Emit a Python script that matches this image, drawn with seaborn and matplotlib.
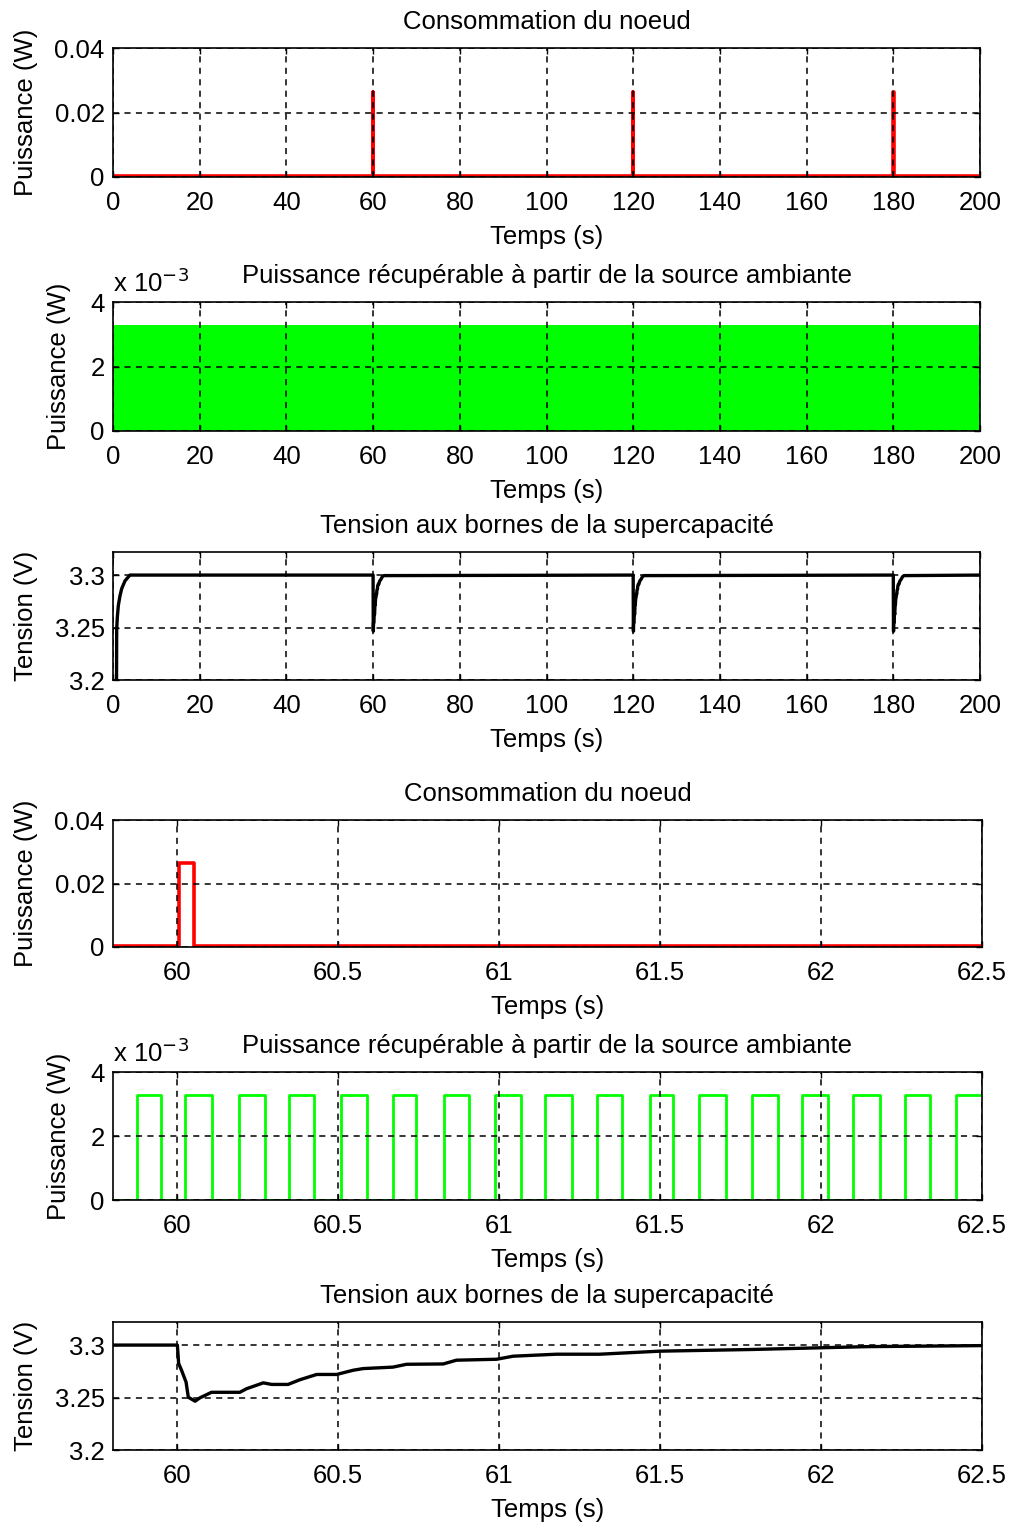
import numpy as np
import pandas as pd
import seaborn as sns
import matplotlib.pyplot as plt

# ---------------- donnees ----------------
# consommation du noeud (W)
conso_events = [60, 120, 180]          # instants des emissions (s)
conso_pulse_start = 0.006              # debut du pic apres l'evenement (s)
conso_pulse_end = 0.051                # fin du pic apres l'evenement (s)
conso_peak = 0.0264                    # W
conso_sleep = 0.0004                   # W

# puissance recuperable (W) - vue 0..200 s : bande pleine
harvest_level = 3.28e-3
harvest_span = [0, 200]
# vue zoomee : fronts montants / descendants (s)
harvest_rise = [59.875, 60.025, 60.190, 60.346, 60.508, 60.670, 60.827, 60.988, 61.143,
                61.305, 61.467, 61.622, 61.785, 61.940, 62.100, 62.261, 62.419]
harvest_fall = [59.949, 60.108, 60.273, 60.423, 60.589, 60.742, 60.905, 61.067, 61.226,
                61.381, 61.541, 61.704, 61.866, 62.021, 62.183, 62.339]

# tension supercapacite (V)
v_start_t = [0.0, 0.8, 0.85, 1.0, 1.23, 1.6, 2.0, 2.77, 3.9]
v_start = [3.0, 3.18, 3.248, 3.26, 3.271, 3.28, 3.287, 3.2945, 3.3]
v_zoom_t = [59.8, 60.0, 60.004, 60.013, 60.027, 60.034, 60.055, 60.070, 60.106, 60.194,
            60.215, 60.267, 60.293, 60.344, 60.381, 60.433, 60.495, 60.546, 60.577, 60.670,
            60.712, 60.826, 60.867, 60.992, 61.043, 61.178, 61.312, 61.499, 61.784, 62.14, 62.5]
v_zoom = [3.3, 3.3, 3.2824, 3.276, 3.2647, 3.2503, 3.2465, 3.2497, 3.255, 3.255,
          3.2584, 3.264, 3.2625, 3.2625, 3.267, 3.272, 3.272, 3.276, 3.2776, 3.279,
          3.2817, 3.282, 3.2856, 3.2865, 3.2894, 3.2913, 3.2913, 3.2942, 3.2958, 3.2985, 3.2995]

full_xticks = [0, 20, 40, 60, 80, 100, 120, 140, 160, 180, 200]
zoom_xticks = [60, 60.5, 61, 61.5, 62, 62.5]
zoom_xlabels = ['60', '60.5', '61', '61.5', '62', '62.5']


# ---------------- construction des series ----------------
def conso_series(t0, t1):
    t, p = [t0], [conso_sleep]
    for e in conso_events:
        a, b = e + conso_pulse_start, e + conso_pulse_end
        if b < t0 or a > t1:
            continue
        t += [a, a, b, b]
        p += [conso_sleep, conso_peak, conso_peak, conso_sleep]
    t.append(t1)
    p.append(conso_sleep)
    return pd.DataFrame({'t': t, 'p': p})


def harvest_series(t0, t1):
    t, p = [t0], [0.0]
    for i, r in enumerate(harvest_rise):
        t += [r, r]
        p += [0.0, harvest_level]
        if i < len(harvest_fall):
            f = harvest_fall[i]
            t += [f, f]
            p += [harvest_level, 0.0]
    t.append(t1)
    p.append(p[-1])
    return pd.DataFrame({'t': t, 'p': p})


def tension_full():
    t, v = list(v_start_t), list(v_start)
    for e in conso_events:
        for dt, vv in zip(v_zoom_t, v_zoom):
            if dt >= 60.0:
                t.append(e + dt - 60.0)
                v.append(vv)
    t.append(200)
    v.append(3.3)
    return pd.DataFrame({'t': t, 'v': v})


df_conso_full = conso_series(0, 200)
df_conso_zoom = conso_series(59.8, 62.5)
df_harv_zoom = harvest_series(59.8, 62.5)
df_v_full = tension_full()
df_v_zoom = pd.DataFrame({'t': v_zoom_t, 'v': v_zoom})

# ---------------- style ----------------
sns.set_theme(style="white")
plt.rcParams['font.family'] = ['Liberation Sans', 'DejaVu Sans']
plt.rcParams['text.color'] = 'black'
plt.rcParams['axes.labelcolor'] = 'black'
FS = 18.5
W, H = 1011, 1525
fig = plt.figure(figsize=(W / 100, H / 100), dpi=100)


def make_ax(left, right, top, bottom):
    return fig.add_axes([left / W, 1 - bottom / H, (right - left) / W, (bottom - top) / H])


def style_ax(ax, title, ylabel, xlim, xticks, xlabels, ylim, yticks, ylabels, ylabelpad=12):
    ax.set_xlim(*xlim)
    ax.set_ylim(*ylim)
    ax.set_xticks(xticks, xlabels)
    ax.set_yticks(yticks, ylabels)
    ax.grid(True, color='black', linestyle=(0, (4, 3.5)), linewidth=1.1)
    ax.set_axisbelow(False)
    for s in ax.spines.values():
        s.set_color('black')
        s.set_linewidth(1.2)
    ax.tick_params(direction='in', length=4, width=1, colors='black', labelsize=FS,
                   top=True, right=True, bottom=True, left=True)
    ax.tick_params(axis='x', pad=10)
    ax.tick_params(axis='y', pad=6)
    ax.set_title(title, fontsize=FS, pad=14, color='black')
    ax.set_xlabel('Temps (s)', fontsize=FS, labelpad=7)
    ax.set_ylabel(ylabel, fontsize=FS, labelpad=ylabelpad)


def line(ax, df, x, y, color, lw):
    sns.lineplot(data=df, x=x, y=y, ax=ax, color=color, linewidth=lw,
                 estimator=None, sort=False, legend=False)


red, green = '#ff0000', '#00ff00'
full = dict(xlim=(0, 200), xticks=full_xticks, xlabels=[str(v) for v in full_xticks])
zoom = dict(xlim=(59.8, 62.5), xticks=zoom_xticks, xlabels=zoom_xlabels)
p_ticks = dict(ylim=(0, 0.04), yticks=[0, 0.02, 0.04], ylabels=['0', '0.02', '0.04'])
h_ticks = dict(ylim=(0, 0.004), yticks=[0, 0.002, 0.004], ylabels=['0', '2', '4'])
v_ticks = dict(ylim=(3.2, 3.322), yticks=[3.2, 3.25, 3.3], ylabels=['3.2', '3.25', '3.3'])

# 1. consommation 0..200
ax1 = make_ax(113, 980, 48, 177)
line(ax1, df_conso_full, 't', 'p', red, 2.6)
style_ax(ax1, 'Consommation du noeud', 'Puissance (W)', **full, **p_ticks)

# 2. puissance recuperable 0..200
ax2 = make_ax(113, 980, 302, 431)
ax2.fill_between(harvest_span, [0, 0], [harvest_level] * 2, color=green, linewidth=0)
style_ax(ax2, 'Puissance récupérable à partir de la source ambiante', 'Puissance (W)',
         **full, **h_ticks, ylabelpad=14)
ax2.text(0, 1.04, r'x 10$^{-3}$', transform=ax2.transAxes, fontsize=FS, ha='left', va='bottom')

# 3. tension 0..200
ax3 = make_ax(113, 980, 552, 680)
line(ax3, df_v_full, 't', 'v', 'black', 2.4)
style_ax(ax3, 'Tension aux bornes de la supercapacité', 'Tension (V)', **full, **v_ticks)

# 4. consommation zoom
ax4 = make_ax(113, 982, 820, 947)
line(ax4, df_conso_zoom, 't', 'p', red, 2.6)
style_ax(ax4, 'Consommation du noeud', 'Puissance (W)', **zoom, **p_ticks)

# 5. puissance recuperable zoom
ax5 = make_ax(113, 982, 1072, 1200)
line(ax5, df_harv_zoom, 't', 'p', green, 2.0)
style_ax(ax5, 'Puissance récupérable à partir de la source ambiante', 'Puissance (W)',
         **zoom, **h_ticks, ylabelpad=14)
ax5.text(0, 1.04, r'x 10$^{-3}$', transform=ax5.transAxes, fontsize=FS, ha='left', va='bottom')

# 6. tension zoom
ax6 = make_ax(113, 982, 1322, 1450)
line(ax6, df_v_zoom, 't', 'v', 'black', 2.4)
style_ax(ax6, 'Tension aux bornes de la supercapacité', 'Tension (V)', **zoom, **v_ticks)

fig.savefig('out.png', dpi=100, facecolor='white')
